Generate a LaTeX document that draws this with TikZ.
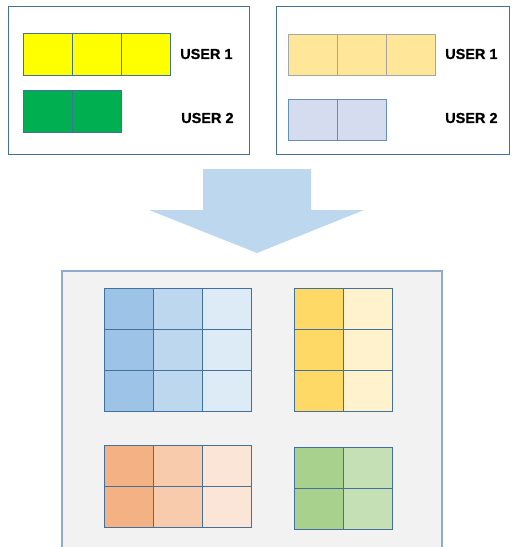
\documentclass[tikz,border=0pt]{standalone}
\usepackage{fontspec}
\setmainfont{Liberation Sans}
\newfontfamily\labelfont{Liberation Sans}[BoldFeatures={FakeBold=0.6}]
\definecolor{frameblue}{HTML}{41719C}
\definecolor{paleframe}{HTML}{8FAACC}
\definecolor{panelgray}{HTML}{F2F2F2}
\definecolor{arrowblue}{HTML}{BDD7EE}
\definecolor{brightyellow}{HTML}{FFFF00}
\definecolor{brightgreen}{HTML}{00B050}
\definecolor{softyellow}{HTML}{FFE699}
\definecolor{softblue}{HTML}{D5DCF0}
\definecolor{blueA}{HTML}{9DC3E6}
\definecolor{blueB}{HTML}{BDD7EE}
\definecolor{blueC}{HTML}{DDEBF7}
\definecolor{goldA}{HTML}{FFD966}
\definecolor{goldB}{HTML}{FFF2CC}
\definecolor{peachA}{HTML}{F4B183}
\definecolor{peachB}{HTML}{F8CBAD}
\definecolor{peachC}{HTML}{FBE5D6}
\definecolor{leafA}{HTML}{A9D18E}
\definecolor{leafB}{HTML}{C5E0B4}
\tikzset{
  panel/.style={draw=frameblue, line width=1pt, fill=white},
  cellbox/.style={draw=frameblue, line width=1pt, minimum width=49pt, minimum height=41pt, inner sep=0pt, outer sep=0pt},
  softcell/.style={cellbox, draw=gray!70},
  userlabel/.style={font=\labelfont\bfseries\fontsize{14.5}{16}\selectfont, anchor=west, inner sep=0pt},
}
\begin{document}
\begin{tikzpicture}[x=1pt,y=-1pt]
\useasboundingbox (0,0) rectangle (512,547);

% upper panels
\draw[panel] (8,6) rectangle (249,154);
\draw[panel] (276,6) rectangle (509,154);

% left panel: user rows
\foreach \i in {0,1,2}
  \node[cellbox, fill=brightyellow, minimum height=42pt] (ly\i) at (47.5+49*\i,54) {};
\foreach \i in {0,1}
  \node[cellbox, fill=brightgreen, minimum height=42pt] (lg\i) at (47.5+49*\i,111) {};
\node[userlabel] (lu1) at (180,54) {USER 1};
\node[userlabel] (lu2) at (181,118) {USER 2};

% right panel: user rows
\foreach \i in {0,1,2}
  \node[softcell, fill=softyellow] (ry\i) at (312.5+49.3*\i,54.5) {};
\foreach \i in {0,1}
  \node[cellbox, fill=softblue, draw=frameblue!80] (rb\i) at (312.5+49.3*\i,119.5) {};
\node[userlabel] (ru1) at (445,54) {USER 1};
\node[userlabel] (ru2) at (445,118) {USER 2};

% downward block arrow
\fill[arrowblue] (203,169) -- (311,169) -- (311,210) -- (364,210)
  -- (257,253) -- (149,210) -- (203,210) -- cycle;

% lower panel
\draw[draw=paleframe, line width=1.3pt, fill=panelgray] (62,560) -- (62,271) -- (442,271) -- (442,560);

% blue 3x3 block
\foreach \c/\col in {0/blueA,1/blueB,2/blueC}
  \foreach \r in {0,1,2}
    \node[cellbox, fill=\col] (bl\c\r) at (128.5+49*\c,308.5+41*\r) {};
% gold 2x3 block
\foreach \c/\col in {0/goldA,1/goldB}
  \foreach \r in {0,1,2}
    \node[cellbox, fill=\col] (go\c\r) at (318.5+49*\c,308.5+41*\r) {};
% peach 3x2 block
\foreach \c/\col in {0/peachA,1/peachB,2/peachC}
  \foreach \r in {0,1}
    \node[cellbox, fill=\col] (pe\c\r) at (128.5+49*\c,465.5+41*\r) {};
% green 2x2 block
\foreach \c/\col in {0/leafA,1/leafB}
  \foreach \r in {0,1}
    \node[cellbox, fill=\col] (gr\c\r) at (318.5+49*\c,467.5+41*\r) {};
\end{tikzpicture}
\end{document}
